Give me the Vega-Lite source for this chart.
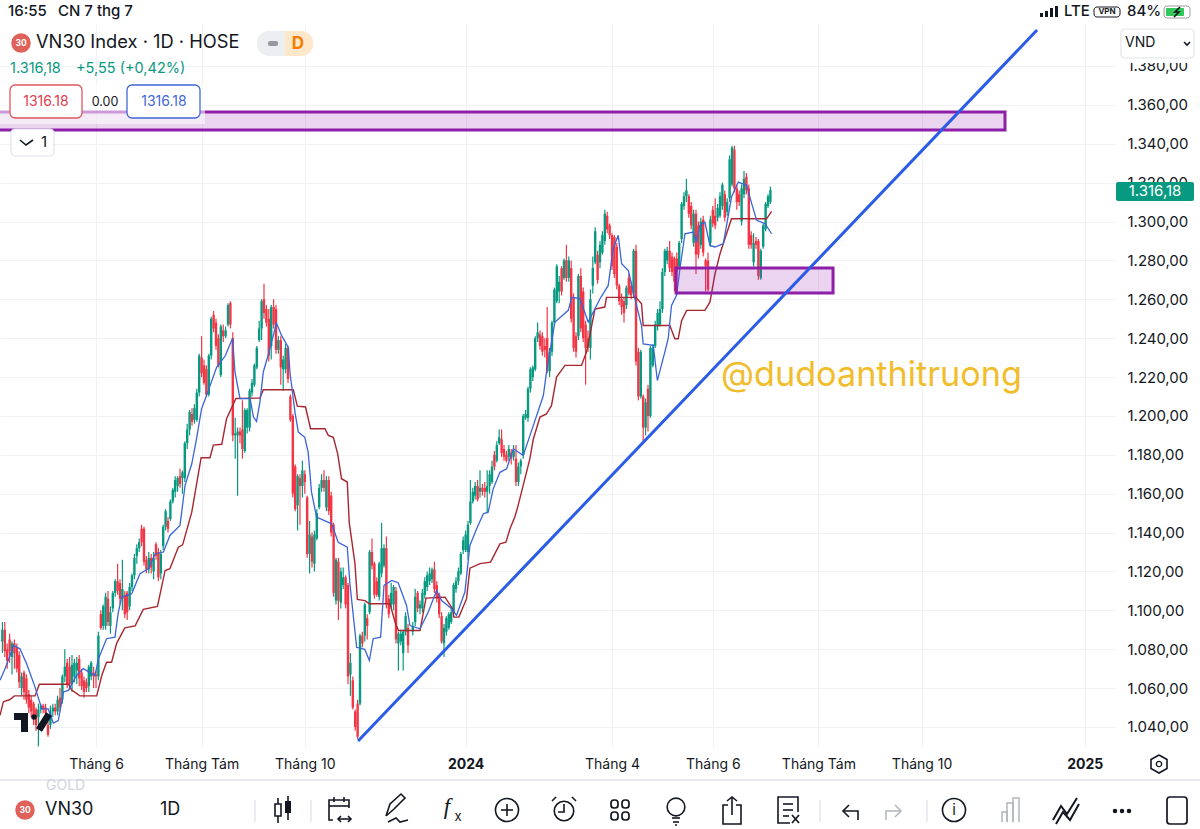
{"$schema":"https://vega.github.io/schema/vega-lite/v6.json","width":1115,"height":723,"autosize":"none","padding":{"left":0,"top":24,"right":85,"bottom":82},"background":"white","view":{"stroke":null},"config":{"font":"Inter"},
"datasets":{
"candles":[{"t":1,"o":1084,"h":1094,"l":1078,"c":1090},{"t":2,"o":1090,"h":1094,"l":1076,"c":1079},{"t":3,"o":1080,"h":1083,"l":1070,"c":1074},{"t":4,"o":1085,"h":1088,"l":1073,"c":1079},{"t":5,"o":1076,"h":1084,"l":1067,"c":1083},{"t":6,"o":1083,"h":1085,"l":1070,"c":1078},{"t":7,"o":1081,"h":1083,"l":1068,"c":1070},{"t":8,"o":1077,"h":1079,"l":1060,"c":1063},{"t":9,"o":1060,"h":1068,"l":1056,"c":1066},{"t":10,"o":1068,"h":1069,"l":1054,"c":1058},{"t":11,"o":1065,"h":1067,"l":1052,"c":1054},{"t":12,"o":1057,"h":1059,"l":1047,"c":1050},{"t":13,"o":1054,"h":1056,"l":1045,"c":1048},{"t":14,"o":1052,"h":1053,"l":1041,"c":1044},{"t":15,"o":1049,"h":1050,"l":1038,"c":1041},{"t":16,"o":1045,"h":1052,"l":1030,"c":1049},{"t":17,"o":1049,"h":1052,"l":1047,"c":1051},{"t":18,"o":1051,"h":1052,"l":1047,"c":1049},{"t":19,"o":1050,"h":1052,"l":1042,"c":1047},{"t":20,"o":1041,"h":1043,"l":1035,"c":1036},{"t":21,"o":1041,"h":1051,"l":1039,"c":1048},{"t":22,"o":1048,"h":1052,"l":1045,"c":1050},{"t":23,"o":1050,"h":1052,"l":1046,"c":1048},{"t":24,"o":1048,"h":1056,"l":1046,"c":1054},{"t":25,"o":1055,"h":1060,"l":1048,"c":1050},{"t":26,"o":1054,"h":1067,"l":1052,"c":1066},{"t":27,"o":1066,"h":1080,"l":1063,"c":1071},{"t":28,"o":1073,"h":1075,"l":1060,"c":1062},{"t":29,"o":1071,"h":1076,"l":1059,"c":1062},{"t":30,"o":1062,"h":1077,"l":1058,"c":1072},{"t":31,"o":1066,"h":1075,"l":1063,"c":1073},{"t":32,"o":1069,"h":1076,"l":1062,"c":1073},{"t":33,"o":1075,"h":1077,"l":1061,"c":1065},{"t":34,"o":1068,"h":1070,"l":1059,"c":1061},{"t":35,"o":1064,"h":1066,"l":1055,"c":1058},{"t":36,"o":1063,"h":1065,"l":1058,"c":1060},{"t":37,"o":1061,"h":1072,"l":1058,"c":1071},{"t":38,"o":1066,"h":1074,"l":1064,"c":1073},{"t":39,"o":1068,"h":1071,"l":1060,"c":1066},{"t":40,"o":1067,"h":1069,"l":1060,"c":1066},{"t":41,"o":1066,"h":1089,"l":1064,"c":1087},{"t":42,"o":1098,"h":1100,"l":1090,"c":1091},{"t":43,"o":1092,"h":1103,"l":1090,"c":1102},{"t":44,"o":1092,"h":1109,"l":1090,"c":1107},{"t":45,"o":1106,"h":1110,"l":1092,"c":1094},{"t":46,"o":1092,"h":1102,"l":1088,"c":1099},{"t":47,"o":1101,"h":1110,"l":1099,"c":1109},{"t":48,"o":1109,"h":1116,"l":1107,"c":1115},{"t":49,"o":1115,"h":1124,"l":1108,"c":1110},{"t":50,"o":1114,"h":1116,"l":1103,"c":1106},{"t":51,"o":1106,"h":1126,"l":1100,"c":1111},{"t":52,"o":1108,"h":1110,"l":1096,"c":1098},{"t":53,"o":1109,"h":1110,"l":1095,"c":1099},{"t":54,"o":1102,"h":1114,"l":1100,"c":1112},{"t":55,"o":1112,"h":1119,"l":1110,"c":1118},{"t":56,"o":1118,"h":1129,"l":1116,"c":1127},{"t":57,"o":1128,"h":1134,"l":1124,"c":1132},{"t":58,"o":1132,"h":1137,"l":1130,"c":1135},{"t":59,"o":1142,"h":1144,"l":1133,"c":1135},{"t":60,"o":1142,"h":1143,"l":1123,"c":1125},{"t":61,"o":1126,"h":1128,"l":1119,"c":1121},{"t":62,"o":1121,"h":1130,"l":1119,"c":1127},{"t":63,"o":1127,"h":1129,"l":1119,"c":1122},{"t":64,"o":1120,"h":1130,"l":1116,"c":1127},{"t":65,"o":1134,"h":1135,"l":1126,"c":1128},{"t":66,"o":1130,"h":1132,"l":1115,"c":1117},{"t":67,"o":1119,"h":1131,"l":1116,"c":1129},{"t":68,"o":1133,"h":1144,"l":1131,"c":1143},{"t":69,"o":1143,"h":1152,"l":1141,"c":1151},{"t":70,"o":1146,"h":1148,"l":1140,"c":1142},{"t":71,"o":1147,"h":1157,"l":1146,"c":1156},{"t":72,"o":1156,"h":1163,"l":1155,"c":1162},{"t":73,"o":1161,"h":1169,"l":1158,"c":1167},{"t":74,"o":1164,"h":1169,"l":1161,"c":1168},{"t":75,"o":1169,"h":1173,"l":1163,"c":1165},{"t":76,"o":1168,"h":1172,"l":1160,"c":1171},{"t":77,"o":1168,"h":1187,"l":1166,"c":1186},{"t":78,"o":1186,"h":1196,"l":1183,"c":1193},{"t":79,"o":1193,"h":1203,"l":1190,"c":1202},{"t":80,"o":1201,"h":1204,"l":1195,"c":1197},{"t":81,"o":1198,"h":1206,"l":1196,"c":1204},{"t":82,"o":1198,"h":1214,"l":1197,"c":1212},{"t":83,"o":1212,"h":1232,"l":1210,"c":1231},{"t":84,"o":1230,"h":1241,"l":1220,"c":1222},{"t":85,"o":1226,"h":1229,"l":1216,"c":1217},{"t":86,"o":1224,"h":1226,"l":1210,"c":1211},{"t":87,"o":1211,"h":1232,"l":1210,"c":1231},{"t":88,"o":1231,"h":1251,"l":1229,"c":1250},{"t":89,"o":1252,"h":1254,"l":1243,"c":1245},{"t":90,"o":1248,"h":1250,"l":1234,"c":1236},{"t":91,"o":1240,"h":1242,"l":1225,"c":1226},{"t":92,"o":1221,"h":1247,"l":1220,"c":1246},{"t":93,"o":1244,"h":1247,"l":1238,"c":1241},{"t":94,"o":1241,"h":1246,"l":1240,"c":1244},{"t":95,"o":1247,"h":1258,"l":1246,"c":1257},{"t":96,"o":1258,"h":1259,"l":1245,"c":1247},{"t":97,"o":1240,"h":1243,"l":1187,"c":1190},{"t":98,"o":1190,"h":1199,"l":1178,"c":1191},{"t":99,"o":1190,"h":1194,"l":1159,"c":1192},{"t":100,"o":1192,"h":1194,"l":1186,"c":1190},{"t":101,"o":1193,"h":1208,"l":1178,"c":1183},{"t":102,"o":1182,"h":1204,"l":1181,"c":1203},{"t":103,"o":1194,"h":1204,"l":1191,"c":1203},{"t":104,"o":1194,"h":1214,"l":1192,"c":1213},{"t":105,"o":1212,"h":1219,"l":1210,"c":1217},{"t":106,"o":1216,"h":1227,"l":1215,"c":1226},{"t":107,"o":1225,"h":1236,"l":1224,"c":1235},{"t":108,"o":1239,"h":1249,"l":1238,"c":1245},{"t":109,"o":1245,"h":1260,"l":1239,"c":1259},{"t":110,"o":1260,"h":1268,"l":1250,"c":1253},{"t":111,"o":1255,"h":1257,"l":1246,"c":1248},{"t":112,"o":1250,"h":1255,"l":1228,"c":1231},{"t":113,"o":1236,"h":1257,"l":1229,"c":1256},{"t":114,"o":1256,"h":1260,"l":1245,"c":1247},{"t":115,"o":1255,"h":1257,"l":1232,"c":1234},{"t":116,"o":1234,"h":1241,"l":1232,"c":1239},{"t":117,"o":1239,"h":1241,"l":1216,"c":1225},{"t":118,"o":1224,"h":1231,"l":1213,"c":1229},{"t":119,"o":1224,"h":1237,"l":1222,"c":1235},{"t":120,"o":1235,"h":1236,"l":1217,"c":1219},{"t":121,"o":1210,"h":1211,"l":1197,"c":1198},{"t":122,"o":1200,"h":1201,"l":1158,"c":1160},{"t":123,"o":1174,"h":1175,"l":1151,"c":1152},{"t":124,"o":1154,"h":1170,"l":1141,"c":1169},{"t":125,"o":1168,"h":1170,"l":1144,"c":1164},{"t":126,"o":1164,"h":1177,"l":1158,"c":1172},{"t":127,"o":1170,"h":1172,"l":1160,"c":1166},{"t":128,"o":1158,"h":1159,"l":1127,"c":1129},{"t":129,"o":1129,"h":1146,"l":1119,"c":1139},{"t":130,"o":1138,"h":1140,"l":1122,"c":1125},{"t":131,"o":1124,"h":1141,"l":1120,"c":1139},{"t":132,"o":1137,"h":1152,"l":1136,"c":1150},{"t":133,"o":1153,"h":1165,"l":1152,"c":1163},{"t":134,"o":1163,"h":1170,"l":1161,"c":1167},{"t":135,"o":1167,"h":1172,"l":1161,"c":1163},{"t":136,"o":1153,"h":1169,"l":1151,"c":1167},{"t":137,"o":1167,"h":1169,"l":1149,"c":1151},{"t":138,"o":1159,"h":1161,"l":1138,"c":1140},{"t":139,"o":1144,"h":1145,"l":1107,"c":1109},{"t":140,"o":1105,"h":1127,"l":1103,"c":1126},{"t":141,"o":1125,"h":1127,"l":1095,"c":1105},{"t":142,"o":1104,"h":1122,"l":1101,"c":1120},{"t":143,"o":1113,"h":1122,"l":1111,"c":1117},{"t":144,"o":1117,"h":1118,"l":1101,"c":1103},{"t":145,"o":1113,"h":1114,"l":1062,"c":1066},{"t":146,"o":1067,"h":1078,"l":1056,"c":1073},{"t":147,"o":1064,"h":1066,"l":1049,"c":1050},{"t":148,"o":1048,"h":1049,"l":1038,"c":1040},{"t":149,"o":1052,"h":1054,"l":1034,"c":1035},{"t":150,"o":1052,"h":1088,"l":1051,"c":1087},{"t":151,"o":1087,"h":1089,"l":1081,"c":1083},{"t":152,"o":1087,"h":1104,"l":1084,"c":1103},{"t":153,"o":1096,"h":1098,"l":1085,"c":1092},{"t":154,"o":1099,"h":1131,"l":1098,"c":1130},{"t":155,"o":1130,"h":1137,"l":1121,"c":1123},{"t":156,"o":1124,"h":1125,"l":1106,"c":1108},{"t":157,"o":1115,"h":1117,"l":1107,"c":1108},{"t":158,"o":1107,"h":1125,"l":1105,"c":1124},{"t":159,"o":1119,"h":1145,"l":1117,"c":1132},{"t":160,"o":1123,"h":1134,"l":1122,"c":1132},{"t":161,"o":1132,"h":1138,"l":1101,"c":1103},{"t":162,"o":1106,"h":1108,"l":1096,"c":1098},{"t":163,"o":1103,"h":1114,"l":1101,"c":1109},{"t":164,"o":1103,"h":1113,"l":1100,"c":1112},{"t":165,"o":1110,"h":1112,"l":1083,"c":1085},{"t":166,"o":1083,"h":1089,"l":1069,"c":1088},{"t":167,"o":1084,"h":1090,"l":1082,"c":1088},{"t":168,"o":1078,"h":1090,"l":1069,"c":1089},{"t":169,"o":1089,"h":1099,"l":1087,"c":1097},{"t":170,"o":1091,"h":1093,"l":1078,"c":1082},{"t":172,"o":1089,"h":1094,"l":1087,"c":1092},{"t":173,"o":1094,"h":1111,"l":1092,"c":1107},{"t":174,"o":1109,"h":1110,"l":1099,"c":1101},{"t":175,"o":1101,"h":1105,"l":1098,"c":1103},{"t":176,"o":1101,"h":1111,"l":1099,"c":1109},{"t":177,"o":1108,"h":1117,"l":1106,"c":1115},{"t":178,"o":1112,"h":1120,"l":1110,"c":1118},{"t":179,"o":1115,"h":1122,"l":1113,"c":1119},{"t":180,"o":1116,"h":1122,"l":1114,"c":1121},{"t":181,"o":1121,"h":1125,"l":1109,"c":1111},{"t":182,"o":1113,"h":1115,"l":1104,"c":1106},{"t":183,"o":1108,"h":1109,"l":1096,"c":1098},{"t":184,"o":1097,"h":1099,"l":1083,"c":1084},{"t":185,"o":1083,"h":1093,"l":1076,"c":1091},{"t":186,"o":1089,"h":1097,"l":1087,"c":1096},{"t":187,"o":1091,"h":1099,"l":1090,"c":1098},{"t":188,"o":1094,"h":1101,"l":1093,"c":1099},{"t":189,"o":1099,"h":1114,"l":1098,"c":1113},{"t":190,"o":1111,"h":1117,"l":1109,"c":1115},{"t":191,"o":1115,"h":1122,"l":1113,"c":1120},{"t":192,"o":1119,"h":1130,"l":1118,"c":1129},{"t":193,"o":1131,"h":1138,"l":1129,"c":1136},{"t":194,"o":1131,"h":1141,"l":1130,"c":1139},{"t":195,"o":1130,"h":1146,"l":1126,"c":1144},{"t":196,"o":1145,"h":1167,"l":1144,"c":1156},{"t":197,"o":1156,"h":1163,"l":1155,"c":1161},{"t":198,"o":1159,"h":1166,"l":1157,"c":1164},{"t":199,"o":1164,"h":1167,"l":1156,"c":1157},{"t":200,"o":1161,"h":1172,"l":1158,"c":1163},{"t":201,"o":1163,"h":1165,"l":1159,"c":1161},{"t":202,"o":1163,"h":1166,"l":1158,"c":1161},{"t":203,"o":1161,"h":1172,"l":1150,"c":1164},{"t":204,"o":1164,"h":1172,"l":1160,"c":1170},{"t":205,"o":1166,"h":1177,"l":1165,"c":1174},{"t":206,"o":1180,"h":1182,"l":1172,"c":1174},{"t":207,"o":1177,"h":1187,"l":1176,"c":1185},{"t":208,"o":1186,"h":1193,"l":1185,"c":1189},{"t":209,"o":1188,"h":1193,"l":1179,"c":1181},{"t":210,"o":1183,"h":1185,"l":1177,"c":1179},{"t":211,"o":1180,"h":1182,"l":1176,"c":1177},{"t":212,"o":1179,"h":1185,"l":1177,"c":1183},{"t":213,"o":1181,"h":1183,"l":1175,"c":1178},{"t":214,"o":1179,"h":1185,"l":1177,"c":1182},{"t":215,"o":1178,"h":1185,"l":1164,"c":1166},{"t":216,"o":1166,"h":1176,"l":1164,"c":1174},{"t":217,"o":1174,"h":1178,"l":1170,"c":1177},{"t":218,"o":1180,"h":1201,"l":1178,"c":1200},{"t":219,"o":1199,"h":1203,"l":1198,"c":1201},{"t":220,"o":1199,"h":1215,"l":1197,"c":1214},{"t":221,"o":1214,"h":1225,"l":1212,"c":1224},{"t":222,"o":1220,"h":1226,"l":1218,"c":1225},{"t":223,"o":1224,"h":1241,"l":1223,"c":1240},{"t":224,"o":1240,"h":1248,"l":1238,"c":1243},{"t":225,"o":1242,"h":1244,"l":1234,"c":1236},{"t":226,"o":1241,"h":1243,"l":1231,"c":1233},{"t":227,"o":1236,"h":1240,"l":1230,"c":1234},{"t":228,"o":1240,"h":1256,"l":1222,"c":1223},{"t":229,"o":1223,"h":1235,"l":1220,"c":1233},{"t":230,"o":1233,"h":1249,"l":1231,"c":1248},{"t":231,"o":1248,"h":1266,"l":1247,"c":1265},{"t":232,"o":1259,"h":1278,"l":1258,"c":1277},{"t":233,"o":1264,"h":1272,"l":1258,"c":1269},{"t":234,"o":1276,"h":1277,"l":1262,"c":1264},{"t":235,"o":1271,"h":1281,"l":1270,"c":1280},{"t":236,"o":1280,"h":1288,"l":1269,"c":1271},{"t":237,"o":1271,"h":1282,"l":1269,"c":1280},{"t":238,"o":1276,"h":1280,"l":1248,"c":1250},{"t":239,"o":1261,"h":1263,"l":1233,"c":1235},{"t":240,"o":1241,"h":1243,"l":1230,"c":1233},{"t":241,"o":1241,"h":1273,"l":1239,"c":1272},{"t":242,"o":1272,"h":1276,"l":1243,"c":1245},{"t":243,"o":1264,"h":1266,"l":1238,"c":1240},{"t":244,"o":1247,"h":1249,"l":1216,"c":1235},{"t":245,"o":1240,"h":1244,"l":1233,"c":1235},{"t":246,"o":1235,"h":1265,"l":1229,"c":1260},{"t":247,"o":1267,"h":1282,"l":1263,"c":1276},{"t":248,"o":1279,"h":1297,"l":1278,"c":1295},{"t":249,"o":1283,"h":1285,"l":1268,"c":1270},{"t":250,"o":1279,"h":1290,"l":1276,"c":1288},{"t":251,"o":1284,"h":1295,"l":1283,"c":1293},{"t":252,"o":1290,"h":1306,"l":1288,"c":1304},{"t":253,"o":1303,"h":1305,"l":1294,"c":1296},{"t":254,"o":1298,"h":1299,"l":1291,"c":1293},{"t":255,"o":1293,"h":1294,"l":1275,"c":1277},{"t":256,"o":1292,"h":1293,"l":1271,"c":1273},{"t":257,"o":1287,"h":1289,"l":1265,"c":1267},{"t":258,"o":1267,"h":1268,"l":1257,"c":1259},{"t":259,"o":1260,"h":1263,"l":1252,"c":1256},{"t":260,"o":1259,"h":1261,"l":1248,"c":1253},{"t":261,"o":1257,"h":1267,"l":1255,"c":1266},{"t":262,"o":1271,"h":1273,"l":1262,"c":1263},{"t":263,"o":1267,"h":1269,"l":1260,"c":1262},{"t":264,"o":1263,"h":1286,"l":1261,"c":1285},{"t":265,"o":1285,"h":1288,"l":1226,"c":1228},{"t":266,"o":1233,"h":1235,"l":1208,"c":1210},{"t":267,"o":1210,"h":1234,"l":1209,"c":1233},{"t":268,"o":1210,"h":1211,"l":1187,"c":1194},{"t":269,"o":1194,"h":1209,"l":1190,"c":1207},{"t":270,"o":1214,"h":1216,"l":1192,"c":1200},{"t":271,"o":1200,"h":1236,"l":1199,"c":1235},{"t":272,"o":1226,"h":1237,"l":1225,"c":1235},{"t":273,"o":1236,"h":1249,"l":1235,"c":1247},{"t":274,"o":1246,"h":1255,"l":1244,"c":1253},{"t":275,"o":1247,"h":1259,"l":1246,"c":1255},{"t":276,"o":1255,"h":1276,"l":1253,"c":1274},{"t":277,"o":1274,"h":1286,"l":1272,"c":1285},{"t":278,"o":1280,"h":1287,"l":1278,"c":1285},{"t":279,"o":1285,"h":1290,"l":1274,"c":1276},{"t":280,"o":1282,"h":1284,"l":1272,"c":1274},{"t":281,"o":1281,"h":1282,"l":1264,"c":1269},{"t":282,"o":1281,"h":1284,"l":1272,"c":1274},{"t":283,"o":1277,"h":1290,"l":1275,"c":1289},{"t":284,"o":1291,"h":1310,"l":1289,"c":1309},{"t":285,"o":1308,"h":1315,"l":1306,"c":1313},{"t":286,"o":1313,"h":1322,"l":1310,"c":1316},{"t":287,"o":1313,"h":1314,"l":1302,"c":1304},{"t":288,"o":1308,"h":1310,"l":1296,"c":1298},{"t":289,"o":1289,"h":1306,"l":1287,"c":1304},{"t":290,"o":1304,"h":1306,"l":1273,"c":1283},{"t":291,"o":1298,"h":1300,"l":1281,"c":1283},{"t":292,"o":1288,"h":1302,"l":1286,"c":1300},{"t":293,"o":1301,"h":1303,"l":1282,"c":1284},{"t":294,"o":1280,"h":1281,"l":1264,"c":1277},{"t":295,"o":1280,"h":1284,"l":1264,"c":1265},{"t":296,"o":1289,"h":1303,"l":1287,"c":1301},{"t":297,"o":1306,"h":1308,"l":1297,"c":1299},{"t":298,"o":1303,"h":1312,"l":1296,"c":1298},{"t":299,"o":1302,"h":1309,"l":1300,"c":1307},{"t":300,"o":1303,"h":1315,"l":1302,"c":1313},{"t":301,"o":1308,"h":1320,"l":1306,"c":1319},{"t":302,"o":1314,"h":1316,"l":1300,"c":1302},{"t":303,"o":1305,"h":1312,"l":1303,"c":1310},{"t":304,"o":1312,"h":1334,"l":1310,"c":1332},{"t":305,"o":1319,"h":1339,"l":1318,"c":1338},{"t":306,"o":1337,"h":1339,"l":1315,"c":1317},{"t":307,"o":1317,"h":1319,"l":1306,"c":1310},{"t":308,"o":1314,"h":1316,"l":1308,"c":1310},{"t":309,"o":1300,"h":1319,"l":1298,"c":1317},{"t":310,"o":1314,"h":1326,"l":1312,"c":1322},{"t":311,"o":1323,"h":1325,"l":1314,"c":1316},{"t":312,"o":1317,"h":1319,"l":1286,"c":1288},{"t":313,"o":1293,"h":1295,"l":1286,"c":1288},{"t":314,"o":1279,"h":1294,"l":1277,"c":1289},{"t":315,"o":1290,"h":1292,"l":1286,"c":1288},{"t":316,"o":1290,"h":1291,"l":1270,"c":1272},{"t":317,"o":1271,"h":1286,"l":1270,"c":1285},{"t":318,"o":1287,"h":1299,"l":1286,"c":1298},{"t":319,"o":1296,"h":1310,"l":1295,"c":1309},{"t":320,"o":1308,"h":1314,"l":1307,"c":1313},{"t":321,"o":1310,"h":1318,"l":1309,"c":1316.18}],
"slow":[{"t":0,"v":1046},{"t":1.4,"v":1053},{"t":4,"v":1054},{"t":6,"v":1056},{"t":14.6,"v":1056},{"t":16.4,"v":1062},{"t":28.5,"v":1062},{"t":29.9,"v":1059},{"t":33.3,"v":1056},{"t":40.3,"v":1056},{"t":42.4,"v":1066.5},{"t":44.4,"v":1073.3},{"t":46.5,"v":1073.3},{"t":48.6,"v":1083},{"t":52,"v":1091},{"t":56.3,"v":1092},{"t":59.7,"v":1100.5},{"t":65.6,"v":1102},{"t":68.8,"v":1120.5},{"t":70.8,"v":1121.4},{"t":74.3,"v":1132.5},{"t":76.1,"v":1133.7},{"t":79.9,"v":1150.5},{"t":83.8,"v":1178.5},{"t":87.5,"v":1178.5},{"t":88.9,"v":1185},{"t":92.4,"v":1185.4},{"t":94.4,"v":1198.6},{"t":98.3,"v":1209},{"t":108.3,"v":1209.2},{"t":109.7,"v":1213.5},{"t":122.2,"v":1213.5},{"t":123.9,"v":1205},{"t":127.3,"v":1204.6},{"t":129.4,"v":1193.4},{"t":135.4,"v":1193.4},{"t":136.8,"v":1190},{"t":138.9,"v":1189},{"t":140.7,"v":1180.5},{"t":142.3,"v":1167.7},{"t":144.7,"v":1166},{"t":145.5,"v":1145.4},{"t":147.9,"v":1124},{"t":148.9,"v":1105.6},{"t":152.1,"v":1105},{"t":153.9,"v":1103.4},{"t":162.5,"v":1103.4},{"t":164.6,"v":1094},{"t":166,"v":1089.6},{"t":175,"v":1089.6},{"t":177.5,"v":1106.3},{"t":185.4,"v":1106.8},{"t":188.6,"v":1100.8},{"t":189.1,"v":1096.5},{"t":191.2,"v":1096.5},{"t":194.4,"v":1106},{"t":195.8,"v":1121.7},{"t":200,"v":1124},{"t":204.4,"v":1124.8},{"t":208.3,"v":1134.2},{"t":210.8,"v":1135},{"t":212.5,"v":1142},{"t":214.5,"v":1148},{"t":215.9,"v":1154},{"t":220.8,"v":1178},{"t":222.2,"v":1188},{"t":225,"v":1199.4},{"t":227.7,"v":1201},{"t":229.8,"v":1205.4},{"t":231.9,"v":1220},{"t":235.4,"v":1226},{"t":242.3,"v":1226},{"t":244.4,"v":1233},{"t":247.9,"v":1255},{"t":252,"v":1256},{"t":252.7,"v":1261},{"t":265,"v":1261},{"t":267.3,"v":1257.7},{"t":268,"v":1246.5},{"t":279.1,"v":1246.5},{"t":281.2,"v":1239.7},{"t":282.6,"v":1239.7},{"t":284,"v":1249},{"t":286.1,"v":1254.3},{"t":293.7,"v":1254.3},{"t":295.8,"v":1258.5},{"t":297.9,"v":1273},{"t":300,"v":1283.4},{"t":302,"v":1291},{"t":304.8,"v":1301.4},{"t":319.4,"v":1301.4},{"t":321.5,"v":1305.2}],
"fast":[{"t":0,"v":1064},{"t":2.1,"v":1070},{"t":4.2,"v":1076.8},{"t":5.6,"v":1082},{"t":8.3,"v":1080.2},{"t":11.1,"v":1072.5},{"t":14.6,"v":1060.5},{"t":17.4,"v":1049.3},{"t":20.1,"v":1049.3},{"t":22.2,"v":1042},{"t":24.3,"v":1043.3},{"t":26.4,"v":1058},{"t":28.5,"v":1058.8},{"t":31.9,"v":1066.5},{"t":34.7,"v":1070},{"t":39.6,"v":1066.5},{"t":41,"v":1075},{"t":44.4,"v":1085.4},{"t":47.9,"v":1086.2},{"t":49.3,"v":1099},{"t":50.7,"v":1106.8},{"t":54.9,"v":1108.5},{"t":58.3,"v":1118.8},{"t":61.8,"v":1121.4},{"t":64.6,"v":1129},{"t":68.1,"v":1130},{"t":70.8,"v":1138.5},{"t":75,"v":1143.7},{"t":77.1,"v":1164.3},{"t":79.9,"v":1175.4},{"t":81.9,"v":1188.3},{"t":84,"v":1203.7},{"t":86.1,"v":1210.6},{"t":90.3,"v":1225.1},{"t":93.8,"v":1230.8},{"t":96.9,"v":1240},{"t":97.9,"v":1222.6},{"t":100,"v":1208.9},{"t":104.2,"v":1208.9},{"t":105.6,"v":1199.4},{"t":106.9,"v":1197.2},{"t":108.3,"v":1207.1},{"t":109.7,"v":1222.6},{"t":111.4,"v":1229.8},{"t":113.9,"v":1241.4},{"t":115.2,"v":1247.8},{"t":117.3,"v":1241.4},{"t":120.1,"v":1235.4},{"t":120.8,"v":1222.6},{"t":122.9,"v":1202},{"t":124.3,"v":1191.7},{"t":127,"v":1189},{"t":128.4,"v":1181.4},{"t":129.8,"v":1160.8},{"t":131.9,"v":1148},{"t":138.2,"v":1144.5},{"t":140.9,"v":1135},{"t":144.7,"v":1132.5},{"t":145.8,"v":1113.6},{"t":148.6,"v":1081},{"t":152,"v":1079.9},{"t":153.9,"v":1074.2},{"t":155.5,"v":1085.4},{"t":158.6,"v":1086.2},{"t":160,"v":1112.8},{"t":163.2,"v":1115.4},{"t":165.9,"v":1114.2},{"t":169.4,"v":1102.5},{"t":170.8,"v":1092.2},{"t":175,"v":1090.5},{"t":178.4,"v":1099},{"t":181.9,"v":1110.2},{"t":184,"v":1105},{"t":188.2,"v":1100.8},{"t":190.2,"v":1097.4},{"t":193.7,"v":1109.4},{"t":195.8,"v":1133.4},{"t":198.6,"v":1142},{"t":201.4,"v":1149.7},{"t":203.4,"v":1150.5},{"t":205.5,"v":1162.5},{"t":208.3,"v":1171},{"t":211.1,"v":1172.8},{"t":213.9,"v":1183.1},{"t":218,"v":1179.6},{"t":222.2,"v":1195},{"t":226.4,"v":1210.5},{"t":227.7,"v":1222.5},{"t":231.2,"v":1248.3},{"t":236.8,"v":1254.3},{"t":238.2,"v":1261},{"t":241.6,"v":1260.3},{"t":245.1,"v":1248.3},{"t":250,"v":1260.3},{"t":253.4,"v":1267},{"t":255.5,"v":1286},{"t":257.6,"v":1292.9},{"t":259,"v":1278.3},{"t":261.8,"v":1274.8},{"t":263.9,"v":1263.7},{"t":267.3,"v":1246.5},{"t":268,"v":1237},{"t":272.2,"v":1236.3},{"t":273.9,"v":1218.2},{"t":277,"v":1232.8},{"t":278.4,"v":1239.7},{"t":279.8,"v":1256.8},{"t":281.9,"v":1262},{"t":283.3,"v":1275.7},{"t":285.4,"v":1293.7},{"t":288.9,"v":1294.6},{"t":290.2,"v":1289.4},{"t":291.6,"v":1298},{"t":293.7,"v":1299.7},{"t":295.8,"v":1287.7},{"t":297.9,"v":1286.9},{"t":301.4,"v":1288.6},{"t":304.8,"v":1312.6},{"t":307.6,"v":1320.3},{"t":311.1,"v":1318.6},{"t":313.2,"v":1309.2},{"t":315.3,"v":1300.6},{"t":318.8,"v":1298.9},{"t":321.5,"v":1293.7}]
},
"layer":[
{"encoding":{"x":{"field":"t","type":"quantitative","scale":{"domain":[0,464.583],"nice":false,"zero":false,"padding":0},"axis":{"values":[40,84,127,194,255,297,341,384,452],"labelExpr":"datum.value==40||datum.value==297?'Tháng 6':datum.value==84||datum.value==341?'Tháng Tám':datum.value==127||datum.value==384?'Tháng 10':datum.value==194?'2024':datum.value==255?'Tháng 4':'2025'","title":null,"domain":false,"ticks":false,"grid":true,"gridColor":"#f0f2f6","gridWidth":1,"labelFontSize":14,"labelColor":"#131722","labelPadding":10,"labelOverlap":false,"labelBound":false,"labelFlush":false,"labelAngle":0,"labelFontWeight":{"condition":{"test":"datum.value==194||datum.value==452","value":"bold"},"value":"normal"}}}},
"layer":[
{"data":{"name":"candles"},"mark":{"type":"rule","strokeWidth":1.2},"encoding":{"y":{"field":"l","type":"quantitative","scale":{"domain":[1029.7,1401.6],"nice":false,"zero":false},"axis":{"orient":"right","values":[1040,1060,1080,1100,1120,1140,1160,1180,1200,1220,1240,1260,1280,1300,1320,1340,1360,1380],"labelExpr":"'1.'+substring(toString(datum.value),1)+',00'","title":null,"domain":false,"ticks":false,"grid":true,"gridColor":"#f0f2f6","gridWidth":1,"labelFontSize":15,"labelColor":"#131722","labelPadding":12,"labelOverlap":false,"labelBound":false,"labelFlush":false}},"y2":{"field":"h"},"color":{"condition":{"test":"datum.c>=datum.o","value":"#089981"},"value":"#f23645"}}},
{"data":{"name":"candles"},"mark":{"type":"bar","size":2.4},"encoding":{"y":{"field":"o","type":"quantitative"},"y2":{"field":"c"},"color":{"condition":{"test":"datum.c>=datum.o","value":"#089981"},"value":"#f23645"}}},
{"data":{"name":"slow"},"mark":{"type":"line","color":"#a8262e","strokeWidth":1.4},"encoding":{"y":{"field":"v","type":"quantitative"}}},
{"data":{"name":"fast"},"mark":{"type":"line","color":"#3b64d8","strokeWidth":1.3},"encoding":{"y":{"field":"v","type":"quantitative"}}},
{"data":{"values":[{"t":-2,"t2":418.75,"a":1356.3,"b":1347.1},{"t":281.7,"t2":347.1,"a":1276.1,"b":1263.2}]},"mark":{"type":"rect","fill":"#9c27b0","fillOpacity":0.2,"stroke":"#8e1fa8","strokeWidth":3},"encoding":{"x2":{"field":"t2"},"y":{"field":"a","type":"quantitative"},"y2":{"field":"b"}}},
{"data":{"values":[{"t":149.2,"v":1032.8},{"t":432.1,"v":1398.5}]},"mark":{"type":"line","color":"#2b5ce6","strokeWidth":3},"encoding":{"y":{"field":"v","type":"quantitative"}}},
{"data":{"values":[{"v":1316.18}]},"mark":{"type":"rule","color":"#089981","strokeWidth":1,"strokeDash":[1,2]},"encoding":{"x":{"datum":0},"x2":{"datum":464.583},"y":{"field":"v","type":"quantitative"}}}
]},
{"encoding":{"x":{"field":"sx","type":"quantitative","scale":{"domain":[0,1115],"nice":false,"zero":false,"padding":0},"axis":null},"y":{"field":"sy","type":"quantitative","scale":{"domain":[747,24],"nice":false,"zero":false,"padding":0},"axis":null}},
"layer":[
{"data":{"values":[{"sx":0,"x2":205,"sy":85,"y2":124}]},"mark":{"type":"rect","fill":"white","opacity":0.55},"encoding":{"x2":{"field":"x2"},"y2":{"field":"y2"}}},
{"data":{"values":[{"sx":10,"x2":82,"sy":85,"y2":118}]},"mark":{"type":"rect","fill":"white","stroke":"#e0565f","strokeWidth":1.3,"cornerRadius":5},"encoding":{"x2":{"field":"x2"},"y2":{"field":"y2"}}},
{"data":{"values":[{"sx":127,"x2":200,"sy":85,"y2":118}]},"mark":{"type":"rect","fill":"white","stroke":"#3f67d8","strokeWidth":1.3,"cornerRadius":5},"encoding":{"x2":{"field":"x2"},"y2":{"field":"y2"}}},
{"data":{"values":[{"sx":1121,"x2":1194,"sy":50,"y2":63}]},"mark":{"type":"rect","fill":"white"},"encoding":{"x2":{"field":"x2"},"y2":{"field":"y2"}}},
{"data":{"values":[{"sx":11,"x2":54,"sy":129,"y2":156},{"sx":1121,"x2":1194,"sy":29,"y2":58}]},"mark":{"type":"rect","fill":"white","stroke":"#e0e3eb","strokeWidth":1.2,"cornerRadius":4},"encoding":{"x2":{"field":"x2"},"y2":{"field":"y2"}}},
{"data":{"values":[{"sx":257,"x2":313,"sy":31,"y2":56}]},"mark":{"type":"rect","fill":"#eceef2","cornerRadius":12},"encoding":{"x2":{"field":"x2"},"y2":{"field":"y2"}}},
{"data":{"values":[{"sx":285,"x2":313,"sy":31,"y2":56}]},"mark":{"type":"rect","fill":"#ffe8c9","cornerRadiusTopRight":12,"cornerRadiusBottomRight":12},"encoding":{"x2":{"field":"x2"},"y2":{"field":"y2"}}},
{"data":{"values":[{"sx":268,"x2":278,"sy":41,"y2":46}]},"mark":{"type":"rect","fill":"#9598a1","cornerRadius":2},"encoding":{"x2":{"field":"x2"},"y2":{"field":"y2"}}},
{"data":{"values":[{"sx":1116,"x2":1194,"sy":182,"y2":201}]},"mark":{"type":"rect","fill":"#089981","cornerRadius":2},"encoding":{"x2":{"field":"x2"},"y2":{"field":"y2"}}},
{"data":{"values":[{"sx":14,"x2":28,"sy":713,"y2":720},{"sx":21,"x2":28,"sy":720,"y2":732},{"sx":1040,"x2":1043,"sy":13,"y2":17},{"sx":1045,"x2":1048,"sy":11,"y2":17},{"sx":1050,"x2":1053,"sy":8,"y2":17},{"sx":1055,"x2":1058,"sy":6,"y2":17},{"sx":285,"x2":291,"sy":801,"y2":813}]},"mark":{"type":"rect","fill":"#131722"},"encoding":{"x2":{"field":"x2"},"y2":{"field":"y2"}}},
{"data":{"values":[{"sx":1094,"x2":1120,"sy":7,"y2":17}]},"mark":{"type":"rect","fill":"white","stroke":"#131722","strokeWidth":1,"cornerRadius":3},"encoding":{"x2":{"field":"x2"},"y2":{"field":"y2"}}},
{"data":{"values":[{"sx":1164,"x2":1190,"sy":6,"y2":18}]},"mark":{"type":"rect","fill":"white","stroke":"#9a9a9a","strokeWidth":1,"cornerRadius":3},"encoding":{"x2":{"field":"x2"},"y2":{"field":"y2"}}},
{"data":{"values":[{"sx":1166,"x2":1184,"sy":8,"y2":16}]},"mark":{"type":"rect","fill":"#34c759","cornerRadius":1},"encoding":{"x2":{"field":"x2"},"y2":{"field":"y2"}}},
{"data":{"values":[{"sx":611,"x2":618,"sy":800,"y2":808},{"sx":622,"x2":629,"sy":800,"y2":808},{"sx":611,"x2":618,"sy":812,"y2":820},{"sx":622,"x2":629,"sy":812,"y2":820},{"sx":1167,"x2":1187,"sy":797,"y2":824}]},"mark":{"type":"rect","fill":"white","stroke":"#131722","strokeWidth":1.7,"cornerRadius":3},"encoding":{"x2":{"field":"x2"},"y2":{"field":"y2"}}},
{"data":{"values":[{"g":"a","sx":0,"sy":780},{"g":"a","sx":1200,"sy":780},{"g":"b","sx":255,"sy":800},{"g":"b","sx":255,"sy":822},{"g":"c","sx":311,"sy":800},{"g":"c","sx":311,"sy":822},{"g":"d","sx":820,"sy":800},{"g":"d","sx":820,"sy":822},{"g":"e","sx":927,"sy":800},{"g":"e","sx":927,"sy":822}]},"mark":{"type":"line","color":"#e0e3eb","strokeWidth":1.3,"order":null},"encoding":{"detail":{"field":"g"}}},
{"data":{"values":[{"g":"a","sx":20,"sy":140},{"g":"a","sx":26,"sy":145},{"g":"a","sx":33,"sy":140},{"g":"b","sx":1184,"sy":42},{"g":"b","sx":1187,"sy":45},{"g":"b","sx":1190,"sy":42},{"g":"c","sx":1180,"sy":7},{"g":"c","sx":1175,"sy":12},{"g":"c","sx":1179,"sy":12},{"g":"c","sx":1174,"sy":17},{"g":"d","sx":278,"sy":798},{"g":"d","sx":278,"sy":804},{"g":"d","sx":275,"sy":804},{"g":"d","sx":275,"sy":816},{"g":"d","sx":281,"sy":816},{"g":"d","sx":281,"sy":804},{"g":"d","sx":278,"sy":804},{"g":"e","sx":278,"sy":816},{"g":"e","sx":278,"sy":823},{"g":"f","sx":288,"sy":796},{"g":"f","sx":288,"sy":820},{"g":"h","sx":349,"sy":808},{"g":"h","sx":349,"sy":800},{"g":"h","sx":329,"sy":800},{"g":"h","sx":329,"sy":820},{"g":"h","sx":333,"sy":820},{"g":"i","sx":329,"sy":806},{"g":"i","sx":349,"sy":806},{"g":"j","sx":334,"sy":797},{"g":"j","sx":334,"sy":802},{"g":"k","sx":344,"sy":797},{"g":"k","sx":344,"sy":802},{"g":"l","sx":338,"sy":819},{"g":"l","sx":351,"sy":819},{"g":"m","sx":341,"sy":816},{"g":"m","sx":338,"sy":819},{"g":"m","sx":341,"sy":822},{"g":"n","sx":348,"sy":816},{"g":"n","sx":351,"sy":819},{"g":"n","sx":348,"sy":822},{"g":"o","sx":386,"sy":816},{"g":"o","sx":390,"sy":804},{"g":"o","sx":401,"sy":794},{"g":"o","sx":405,"sy":798},{"g":"o","sx":394,"sy":809},{"g":"o","sx":386,"sy":816},{"g":"p","sx":388,"sy":822},{"g":"p","sx":396,"sy":818},{"g":"p","sx":400,"sy":822},{"g":"p","sx":408,"sy":820},{"g":"q","sx":501,"sy":810},{"g":"q","sx":513,"sy":810},{"g":"r","sx":507,"sy":804},{"g":"r","sx":507,"sy":816},{"g":"s","sx":564,"sy":804},{"g":"s","sx":564,"sy":812},{"g":"s","sx":558,"sy":812},{"g":"t","sx":552,"sy":801},{"g":"t","sx":556,"sy":797},{"g":"u","sx":572,"sy":797},{"g":"u","sx":576,"sy":801},{"g":"v","sx":672,"sy":818},{"g":"v","sx":680,"sy":818},{"g":"w","sx":673,"sy":822},{"g":"w","sx":679,"sy":822},{"g":"x","sx":675,"sy":825},{"g":"x","sx":677,"sy":825},{"g":"y","sx":728,"sy":805},{"g":"y","sx":723,"sy":805},{"g":"y","sx":723,"sy":824},{"g":"y","sx":741,"sy":824},{"g":"y","sx":741,"sy":805},{"g":"y","sx":736,"sy":805},{"g":"z","sx":732,"sy":815},{"g":"z","sx":732,"sy":797},{"g":"aa","sx":727,"sy":801},{"g":"aa","sx":732,"sy":797},{"g":"aa","sx":737,"sy":801},{"g":"ab","sx":798,"sy":812},{"g":"ab","sx":798,"sy":797},{"g":"ab","sx":778,"sy":797},{"g":"ab","sx":778,"sy":823},{"g":"ab","sx":790,"sy":823},{"g":"ac","sx":783,"sy":804},{"g":"ac","sx":793,"sy":804},{"g":"ad","sx":783,"sy":810},{"g":"ad","sx":793,"sy":810},{"g":"ae","sx":783,"sy":816},{"g":"ae","sx":789,"sy":816},{"g":"af","sx":792,"sy":815},{"g":"af","sx":799,"sy":823},{"g":"ag","sx":799,"sy":815},{"g":"ag","sx":792,"sy":823},{"g":"ah","sx":858,"sy":820},{"g":"ah","sx":858,"sy":811},{"g":"ah","sx":843,"sy":811},{"g":"ai","sx":849,"sy":805},{"g":"ai","sx":843,"sy":811},{"g":"ai","sx":849,"sy":817},{"g":"aj","sx":1159,"sy":755},{"g":"aj","sx":1167,"sy":759.5},{"g":"aj","sx":1167,"sy":768.5},{"g":"aj","sx":1159,"sy":773},{"g":"aj","sx":1151,"sy":768.5},{"g":"aj","sx":1151,"sy":759.5},{"g":"aj","sx":1159,"sy":755}]},"mark":{"type":"line","color":"#131722","strokeWidth":1.6,"order":null},"encoding":{"detail":{"field":"g"}}},
{"data":{"values":[{"g":"a","sx":886,"sy":820},{"g":"a","sx":886,"sy":811},{"g":"a","sx":901,"sy":811},{"g":"b","sx":895,"sy":805},{"g":"b","sx":901,"sy":811},{"g":"b","sx":895,"sy":817},{"g":"c","sx":1002,"sy":822},{"g":"c","sx":1002,"sy":812},{"g":"c","sx":1007,"sy":812},{"g":"c","sx":1007,"sy":822},{"g":"d","sx":1007,"sy":822},{"g":"d","sx":1007,"sy":803},{"g":"d","sx":1013,"sy":803},{"g":"d","sx":1013,"sy":822},{"g":"e","sx":1013,"sy":822},{"g":"e","sx":1013,"sy":798},{"g":"e","sx":1019,"sy":798},{"g":"e","sx":1019,"sy":822}]},"mark":{"type":"line","color":"#b2b5be","strokeWidth":1.5,"order":null},"encoding":{"detail":{"field":"g"}}},
{"data":{"values":[{"g":"a","sx":1053,"sy":820},{"g":"a","sx":1061,"sy":806},{"g":"a","sx":1067,"sy":814},{"g":"a","sx":1077,"sy":798},{"g":"b","sx":1056,"sy":824},{"g":"b","sx":1063,"sy":812},{"g":"b","sx":1070,"sy":820},{"g":"b","sx":1079,"sy":804}]},"mark":{"type":"line","color":"#131722","strokeWidth":2,"order":null},"encoding":{"detail":{"field":"g"}}},
{"data":{"values":[{"g":"a","sx":49,"sy":714},{"g":"a","sx":39,"sy":730}]},"mark":{"type":"line","color":"#131722","strokeWidth":7,"order":null},"encoding":{"detail":{"field":"g"}}},
{"data":{"values":[{"sx":34,"sy":717}]},"mark":{"type":"point","shape":"circle","filled":true,"size":30,"color":"#131722","opacity":1}},
{"data":{"values":[{"sx":21,"sy":43},{"sx":25,"sy":810}]},"mark":{"type":"point","shape":"circle","filled":true,"size":380,"color":"#e0605a","opacity":1}},
{"data":{"values":[{"sx":507,"sy":810},{"sx":954,"sy":810}]},"mark":{"type":"point","shape":"circle","filled":false,"size":531,"color":"#131722","strokeWidth":1.6,"opacity":1}},
{"data":{"values":[{"sx":564,"sy":811}]},"mark":{"type":"point","shape":"circle","filled":false,"size":380,"color":"#131722","strokeWidth":1.6,"opacity":1}},
{"data":{"values":[{"sx":676,"sy":807}]},"mark":{"type":"point","shape":"circle","filled":false,"size":314,"color":"#131722","strokeWidth":1.6,"opacity":1}},
{"data":{"values":[{"sx":1159,"sy":764}]},"mark":{"type":"point","shape":"circle","filled":false,"size":28,"color":"#131722","strokeWidth":1.4,"opacity":1}},
{"data":{"values":[{"sx":1115,"sy":811},{"sx":1122,"sy":811},{"sx":1129,"sy":811}]},"mark":{"type":"point","shape":"circle","filled":true,"size":20,"color":"#131722","opacity":1}},
{"data":{"values":[{"sx":8,"sy":11,"s":"16:55"},{"sx":58,"sy":11,"s":"CN 7 thg 7"},{"sx":1064,"sy":11,"s":"LTE"},{"sx":1127,"sy":11,"s":"84%"}]},"mark":{"type":"text","align":"left","baseline":"middle","fontSize":15,"fontWeight":500,"color":"#131722"},"encoding":{"text":{"field":"s"}}},
{"data":{"values":[{"sx":36,"sy":43,"s":"VN30 Index · 1D · HOSE"}]},"mark":{"type":"text","align":"left","baseline":"middle","fontSize":18.3,"color":"#131722"},"encoding":{"text":{"field":"s"}}},
{"data":{"values":[{"sx":10,"sy":69,"s":"1.316,18"},{"sx":76,"sy":69,"s":"+5,55 (+0,42%)"}]},"mark":{"type":"text","align":"left","baseline":"middle","fontSize":14.5,"color":"#089981"},"encoding":{"text":{"field":"s"}}},
{"data":{"values":[{"sx":46,"sy":102,"s":"1316.18"}]},"mark":{"type":"text","align":"center","baseline":"middle","fontSize":14,"color":"#e0404f"},"encoding":{"text":{"field":"s"}}},
{"data":{"values":[{"sx":164,"sy":102,"s":"1316.18"}]},"mark":{"type":"text","align":"center","baseline":"middle","fontSize":14,"color":"#3f67d8"},"encoding":{"text":{"field":"s"}}},
{"data":{"values":[{"sx":105,"sy":102,"s":"0.00"}]},"mark":{"type":"text","align":"center","baseline":"middle","fontSize":12.5,"color":"#131722"},"encoding":{"text":{"field":"s"}}},
{"data":{"values":[{"sx":44,"sy":142,"s":"1"},{"sx":954,"sy":810,"s":"i"}]},"mark":{"type":"text","align":"center","baseline":"middle","fontSize":15,"color":"#131722"},"encoding":{"text":{"field":"s"}}},
{"data":{"values":[{"sx":21,"sy":43,"s":"30"},{"sx":25,"sy":810,"s":"30"}]},"mark":{"type":"text","align":"center","baseline":"middle","fontSize":8.5,"fontWeight":"bold","color":"white"},"encoding":{"text":{"field":"s"}}},
{"data":{"values":[{"sx":298,"sy":44,"s":"D"}]},"mark":{"type":"text","align":"center","baseline":"middle","fontSize":17,"fontWeight":"bold","color":"#f57c00"},"encoding":{"text":{"field":"s"}}},
{"data":{"values":[{"sx":1125,"sy":43,"s":"VND"}]},"mark":{"type":"text","align":"left","baseline":"middle","fontSize":14,"color":"#131722"},"encoding":{"text":{"field":"s"}}},
{"data":{"values":[{"sx":1107,"sy":12,"s":"VPN"}]},"mark":{"type":"text","align":"center","baseline":"middle","fontSize":8,"fontWeight":"bold","color":"#131722"},"encoding":{"text":{"field":"s"}}},
{"data":{"values":[{"sx":1155,"sy":191,"s":"1.316,18"}]},"mark":{"type":"text","align":"center","baseline":"middle","fontSize":15,"color":"white"},"encoding":{"text":{"field":"s"}}},
{"data":{"values":[{"sx":721,"sy":376,"s":"@dudoanthitruong"}]},"mark":{"type":"text","align":"left","baseline":"middle","fontSize":34.2,"color":"#f2bd2c"},"encoding":{"text":{"field":"s"}}},
{"data":{"values":[{"sx":46,"sy":786,"s":"GOLD"}]},"mark":{"type":"text","align":"left","baseline":"middle","fontSize":14,"color":"#d1d4dc"},"encoding":{"text":{"field":"s"}}},
{"data":{"values":[{"sx":45,"sy":810,"s":"VN30"},{"sx":160,"sy":810,"s":"1D"}]},"mark":{"type":"text","align":"left","baseline":"middle","fontSize":18,"color":"#131722"},"encoding":{"text":{"field":"s"}}},
{"data":{"values":[{"sx":447,"sy":807,"s":"f"}]},"mark":{"type":"text","align":"center","baseline":"middle","fontSize":23,"font":"Liberation Serif","fontStyle":"italic","color":"#131722"},"encoding":{"text":{"field":"s"}}},
{"data":{"values":[{"sx":458,"sy":817,"s":"x"}]},"mark":{"type":"text","align":"center","baseline":"middle","fontSize":13,"color":"#131722"},"encoding":{"text":{"field":"s"}}}
]}
],
"resolve":{"scale":{"x":"independent","y":"independent"}}}
